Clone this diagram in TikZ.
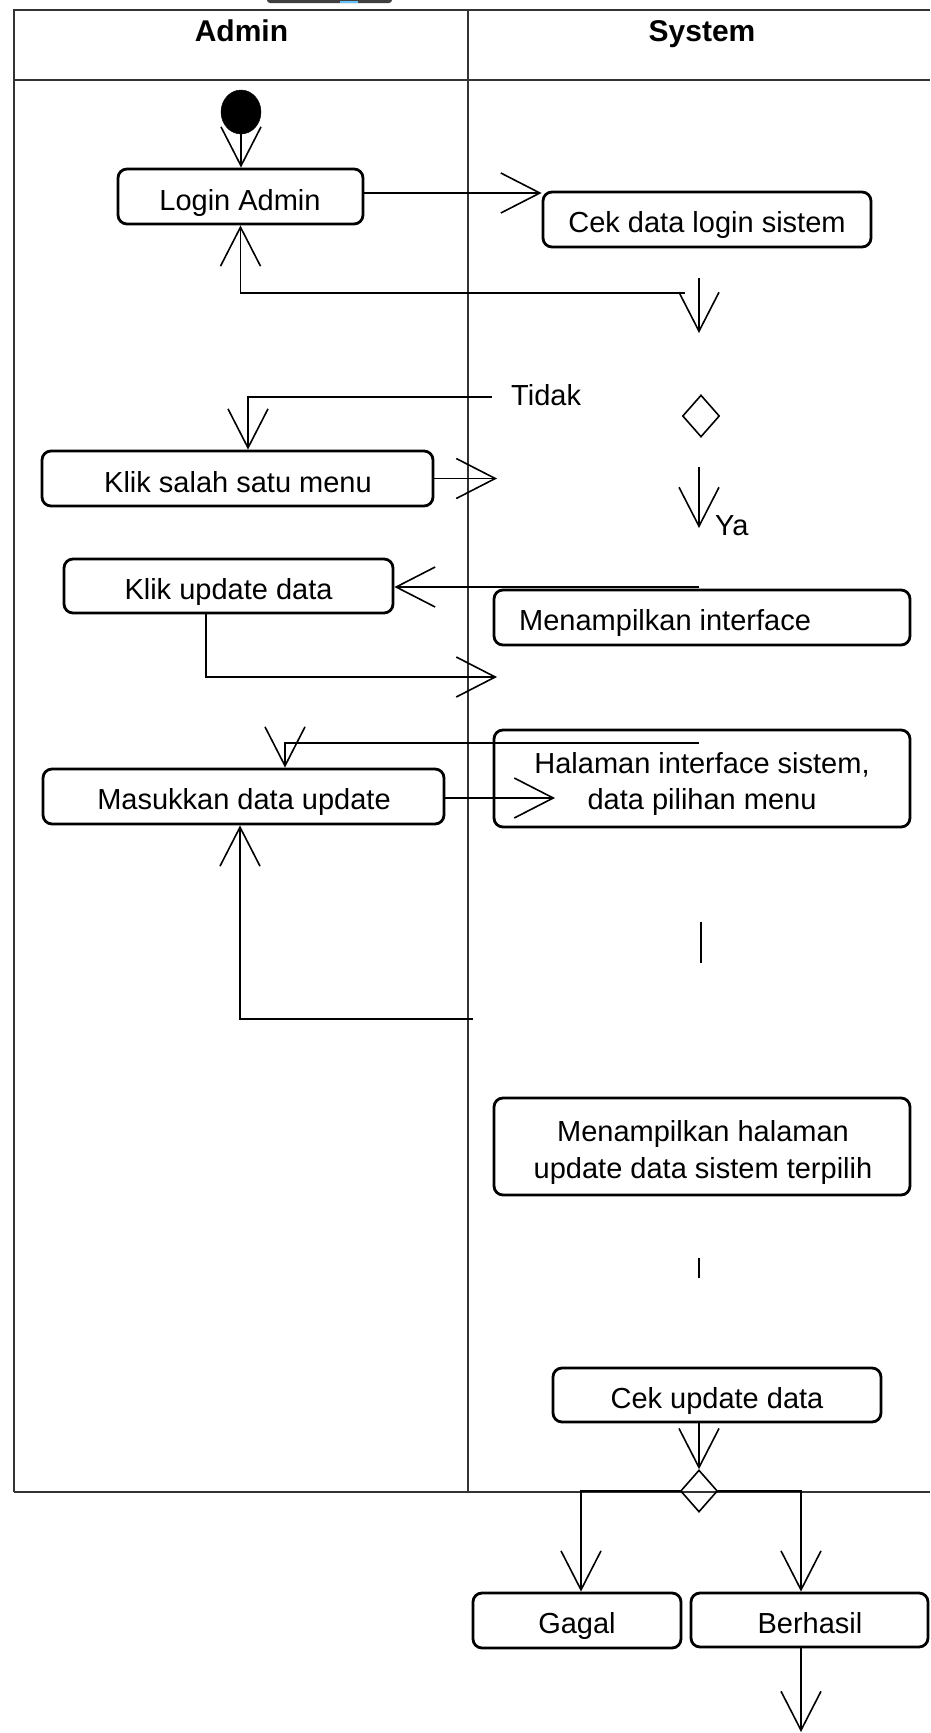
\documentclass[tikz,border=0pt]{standalone}
\usepackage{fontspec}
\setmainfont{Liberation Sans}
\usetikzlibrary{arrows.meta,shapes.geometric}
\begin{document}
\begin{tikzpicture}[x=1pt,y=-1pt,
  frame/.style={line width=1.4pt, draw=black!80},
  act/.style={draw, line width=2.8pt, rounded corners=9pt, inner sep=0pt},
  lbl/.style={font=\fontsize{29}{35}\selectfont, anchor=base, inner sep=0pt},
  head/.style={font=\bfseries\fontsize{30}{36}\selectfont, anchor=base, inner sep=0pt},
  flow/.style={line width=1.6pt, -{Straight Barb[length=39pt,width=40pt]}},
  plain/.style={line width=1.6pt},
]
\useasboundingbox (0,0) rectangle (930,1733);
% cut-off graphic at top
\fill[black!75, rounded corners=3pt] (267,-6) rectangle (392,3);
\fill[blue!40!cyan!60] (340,0.5) rectangle (358,3);
% swimlane frame
\draw[frame] (14,1492) -- (14,10) -- (930,10);
\draw[frame] (14,80) -- (930,80);
\draw[frame] (468,10) -- (468,1492);
\draw[frame] (14,1492) -- (930,1492);
\node[head] (hadmin) at (241.5,41) {Admin};
\node[head] (hsys) at (702,41) {System};

% start
\node[draw, fill=black, ellipse, minimum width=40pt, minimum height=44pt, inner sep=0pt] (start) at (241,112) {};

% activity boxes
\node[act, minimum width=245pt, minimum height=55pt] (login) at (240.5,196.5) {};
\node[lbl] (tlogin) at (240,210) {Login Admin};
\node[act, minimum width=328pt, minimum height=55pt] (cek) at (707,219.5) {};
\node[lbl] (tcek) at (707,232) {Cek data login sistem};
\node[act, minimum width=391pt, minimum height=55pt] (klik1) at (237.5,478.5) {};
\node[lbl] (tklik1) at (238,492) {Klik salah satu menu};
\node[act, minimum width=329pt, minimum height=54pt] (klik2) at (228.5,586) {};
\node[lbl] (tklik2) at (228.5,599) {Klik update data};
\node[act, minimum width=416pt, minimum height=55pt] (menamp) at (702,617.5) {};
\node[lbl, anchor=base west] (tmenamp) at (519,630) {Menampilkan interface};
\node[act, minimum width=416pt, minimum height=97pt] (halaman) at (702,778.5) {};
\node[lbl] (thal1) at (702,773) {Halaman interface sistem,};
\node[lbl] (thal2) at (702,809) {data pilihan menu};
\node[act, minimum width=401pt, minimum height=55pt] (masuk) at (243.5,796.5) {};
\node[lbl] (tmasuk) at (244,809) {Masukkan data update};
\node[act, minimum width=416pt, minimum height=97pt] (menamp2) at (702,1146.5) {};
\node[lbl] (tmen21) at (703,1141) {Menampilkan halaman};
\node[lbl] (tmen22) at (703,1178) {update data sistem terpilih};
\node[act, minimum width=328pt, minimum height=54pt] (cekup) at (717,1395) {};
\node[lbl] (tcekup) at (717,1408) {Cek update data};
\node[act, minimum width=208pt, minimum height=55pt] (gagal) at (577,1620.5) {};
\node[lbl] (tgagal) at (577,1633) {Gagal};
\node[act, minimum width=237pt, minimum height=54pt] (berhasil) at (809.5,1620) {};
\node[lbl] (tberhasil) at (810,1633) {Berhasil};

% decisions
\node[draw, diamond, line width=1.6pt, minimum width=37pt, minimum height=42pt, inner sep=0pt] (dec1) at (701,416) {};
\node[draw, diamond, line width=1.6pt, minimum width=37pt, minimum height=42pt, inner sep=0pt] (dec2) at (699,1491) {};

% labels
\node[lbl, anchor=base west] (tidak) at (511,405) {Tidak};
\node[lbl, anchor=base west] (ya) at (715,535) {Ya};

% free ends
\coordinate (r1) at (685,293);
\coordinate (a1s) at (699,278);
\coordinate (a1e) at (699,333);
\coordinate (t1) at (492,397);
\coordinate (k1e) at (497,477);
\coordinate (y1) at (699,467);
\coordinate (y2) at (699,528);
\coordinate (m1) at (699,587);
\coordinate (k2e) at (497,677);
\coordinate (h1) at (699,743);
\coordinate (me) at (555,798);
\coordinate (l1) at (473,1019);
\coordinate (s1a) at (701,922);
\coordinate (s1b) at (701,963);
\coordinate (s2a) at (699,1258);
\coordinate (s2b) at (699,1278);
\coordinate (bend) at (801,1732);

% connectors
\draw[flow] (start.south) -- (start.south |- login.north);
\draw[flow] ([yshift=3.5pt]login.east) -- ([yshift=3.5pt]login.east -| cek.west);
\draw[flow] (r1) -| (login.south);
\draw[flow] (a1s) -- (a1e);
\draw[flow] (t1) -| ([xshift=10.5pt]klik1.north);
\draw[flow] (klik1.east) -- (klik1.east -| k1e);
\draw[flow] (y1) -- (y2);
\draw[flow] (m1) -- (m1 -| klik2.east);
\draw[flow] ([xshift=-22.5pt]klik2.south) |- (k2e);
\draw[flow] (h1) -| ([xshift=41.5pt]masuk.north);
\draw[flow] (masuk.east |- me) -- (me);
\draw[flow] (l1) -| ([xshift=-3.5pt]masuk.south);
\draw[plain] (s1a) -- (s1b);
\draw[plain] (s2a) -- (s2b);
\draw[flow] ([xshift=-18pt]cekup.south) -- (dec2.north);
\draw[flow] (dec2.west) -| ([xshift=4pt]gagal.north);
\draw[flow] (dec2.east) -| ([xshift=-8.5pt]berhasil.north);
\draw[flow] ([xshift=-8.5pt]berhasil.south) -- (bend);
\end{tikzpicture}
\end{document}
